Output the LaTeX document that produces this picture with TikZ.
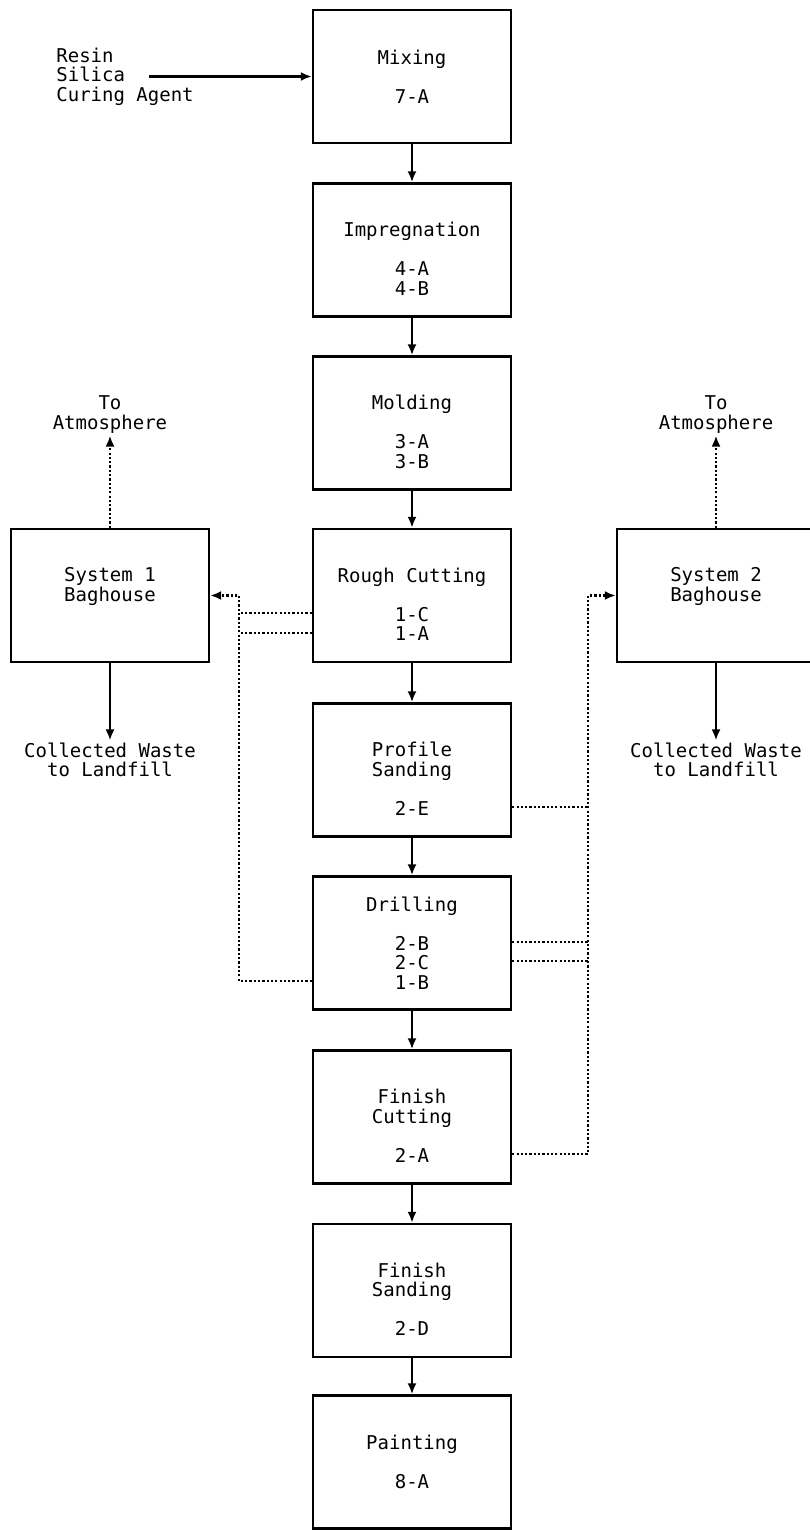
\documentclass[tikz,border=0pt]{standalone}
\usepackage{fontspec}
\setmonofont{DejaVu Sans Mono}
\usepackage{tikz}
\usetikzlibrary{arrows.meta,calc}
\newcommand{\padtop}{\rule{0pt}{16pt}}
\newcommand{\padbot}{\rule[-11pt]{0pt}{11pt}}

\begin{document}
\begin{tikzpicture}[x=0.5pt,y=-0.5pt,
  font=\ttfamily\fontsize{9.5pt}{9.75pt}\selectfont,
  stagebox/.style={draw,line width=1.2pt,minimum width=99pt,minimum height=66.5pt,align=center,inner sep=0pt},
  flow/.style={-{Latex[length=5.5pt,width=4.5pt]},line width=1.2pt},
  vent/.style={line width=1.2pt,dash pattern=on 1.1pt off 1.05pt},
  lbl/.style={align=center,inner sep=1pt}]
\useasboundingbox (0,0) rectangle (809,1530);

% process line
\node[stagebox] (mix) at (412,76.5) {Mixing\\[9.75pt]7-A};
\node[stagebox] (imp) at (412,250) {\padtop Impregnation\\[9.75pt]4-A\\4-B};
\node[stagebox] (mold) at (412,423) {\padtop Molding\\[9.75pt]3-A\\3-B};
\node[stagebox] (rough) at (412,595.5) {\padtop Rough Cutting\\[9.75pt]1-C\\1-A};
\node[stagebox] (prof) at (412,770) {\padtop Profile\\Sanding\\[9.75pt]2-E};
\node[stagebox] (drill) at (412,943) {Drilling\\[9.75pt]2-B\\2-C\\1-B};
\node[stagebox] (fcut) at (412,1117) {\padtop Finish\\Cutting\\[9.75pt]2-A};
\node[stagebox] (fsand) at (412,1290.5) {\padtop Finish\\Sanding\\[9.75pt]2-D};
\node[stagebox] (paint) at (412,1462) {Painting\\[9.75pt]8-A};

\draw[flow] (mix) -- (imp);
\draw[flow] (imp) -- (mold);
\draw[flow] (mold) -- (rough);
\draw[flow] (rough) -- (prof);
\draw[flow] (prof) -- (drill);
\draw[flow] (drill) -- (fcut);
\draw[flow] (fcut) -- (fsand);
\draw[flow] (fsand) -- (paint);

% raw materials
\node[align=left,anchor=west,inner sep=0pt] (feedtxt) at (56,76.5) {Resin\\Silica\\Curing Agent};
\coordinate (feed) at (149,76.5);
\draw[flow] (feed) -- (mix.west);

% dust collection
\node[stagebox] (bag1) at (110,595.5) {System 1\\Baghouse\padbot};
\node[stagebox] (bag2) at (716,595.5) {System 2\\Baghouse\padbot};
\node[lbl] (atm1) at (110,414.5) {To\\Atmosphere};
\node[lbl] (atm2) at (716,414.5) {To\\Atmosphere};
\node[lbl] (waste1) at (110,760) {Collected Waste\\to Landfill};
\node[lbl] (waste2) at (716,760) {Collected Waste\\to Landfill};

\draw[vent,-{Latex[length=5.5pt,width=4.5pt]}] (bag1) -- (atm1);
\draw[vent,-{Latex[length=5.5pt,width=4.5pt]}] (bag2) -- (atm2);
\draw[flow] (bag1) -- (waste1);
\draw[flow] (bag2) -- (waste2);

\coordinate (lbus) at (239,595.5);
\coordinate (rbus) at (588,595.5);

\draw[vent,-{Latex[length=5.5pt,width=4.5pt]}] ($(drill.west)+(0,38)$) -| (lbus) -- (bag1.east);
\draw[vent] ($(rough.west)+(0,17.5)$) -- (lbus |- 0,613);
\draw[vent] ($(rough.west)+(0,37.5)$) -- (lbus |- 0,633);

\draw[vent,-{Latex[length=5.5pt,width=4.5pt]}] ($(fcut.east)+(0,37)$) -| (rbus) -- (bag2.west);
\draw[vent] ($(prof.east)+(0,37)$) -- (rbus |- 0,807);
\draw[vent] ($(drill.east)+(0,-1)$) -- (rbus |- 0,942);
\draw[vent] ($(drill.east)+(0,18)$) -- (rbus |- 0,961);
\end{tikzpicture}
\end{document}
